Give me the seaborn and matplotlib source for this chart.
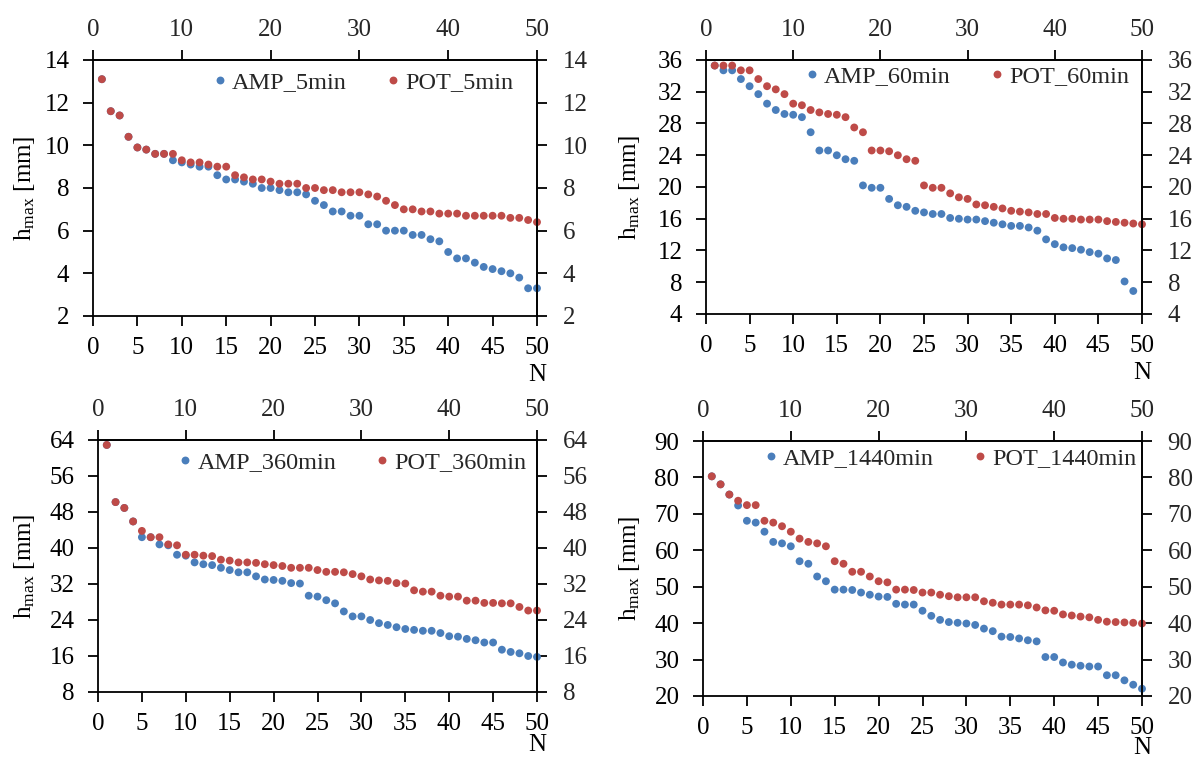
import numpy as np
import pandas as pd
import matplotlib
matplotlib.use("Agg")
import matplotlib.pyplot as plt
from matplotlib import font_manager
from matplotlib.lines import Line2D
import seaborn as sns

# ---- data: ranked maximum rainfall depths (mm), rank N = 1..50 ----
n_rank = list(range(1, 51))

amp_5min = [13.1, 11.6, 11.4, 10.4, 9.9, 9.8, 9.6, 9.6, 9.3, 9.2,
            9.1, 9.0, 9.0, 8.6, 8.4, 8.4, 8.3, 8.2, 8.0, 8.0,
            7.9, 7.8, 7.8, 7.7, 7.4, 7.2, 6.9, 6.9, 6.7, 6.7,
            6.3, 6.3, 6.0, 6.0, 6.0, 5.8, 5.8, 5.6, 5.5, 5.0,
            4.7, 4.7, 4.5, 4.3, 4.2, 4.1, 4.0, 3.8, 3.3, 3.3]
pot_5min = [13.1, 11.6, 11.4, 10.4, 9.9, 9.8, 9.6, 9.6, 9.6, 9.3,
            9.2, 9.2, 9.1, 9.0, 9.0, 8.6, 8.5, 8.4, 8.4, 8.3,
            8.2, 8.2, 8.2, 8.0, 8.0, 7.9, 7.9, 7.8, 7.8, 7.8,
            7.7, 7.6, 7.4, 7.2, 7.0, 7.0, 6.9, 6.9, 6.8, 6.8,
            6.8, 6.7, 6.7, 6.7, 6.7, 6.7, 6.6, 6.6, 6.5, 6.4]

amp_60min = [35.3, 34.7, 34.7, 33.6, 32.7, 31.7, 30.5, 29.7, 29.2, 29.1,
             28.8, 26.9, 24.6, 24.6, 24.0, 23.5, 23.3, 20.2, 19.9, 19.9,
             18.5, 17.7, 17.5, 17.0, 16.8, 16.6, 16.6, 16.1, 16.0, 15.9,
             15.9, 15.7, 15.5, 15.3, 15.1, 15.1, 14.9, 14.5, 13.4, 12.8,
             12.4, 12.3, 12.1, 11.8, 11.6, 11.0, 10.8, 8.1, 6.9, np.nan]
pot_60min = [35.3, 35.3, 35.3, 34.7, 34.7, 33.6, 32.7, 32.3, 31.7, 30.5,
             30.3, 29.7, 29.4, 29.2, 29.1, 28.8, 27.5, 26.9, 24.6, 24.6,
             24.5, 24.0, 23.5, 23.3, 20.2, 19.9, 19.9, 19.2, 18.7, 18.5,
             17.8, 17.7, 17.5, 17.3, 17.0, 16.9, 16.8, 16.6, 16.6, 16.1,
             16.0, 16.0, 15.9, 15.9, 15.9, 15.7, 15.6, 15.5, 15.4, 15.3]

amp_360min = [62.9, 50.2, 48.9, 45.9, 42.4, 42.4, 40.8, 40.6, 38.5, 38.3,
              36.8, 36.4, 36.2, 35.6, 35.1, 34.6, 34.6, 33.7, 33.0, 32.9,
              32.7, 32.2, 32.1, 29.4, 29.2, 28.4, 27.7, 25.9, 24.8, 24.8,
              24.0, 23.3, 22.9, 22.4, 22.0, 21.8, 21.6, 21.6, 21.1, 20.4,
              20.3, 19.8, 19.5, 19.0, 19.0, 17.4, 16.9, 16.6, 16.0, 15.8]
pot_360min = [62.9, 50.2, 48.9, 45.9, 43.8, 42.4, 42.4, 40.8, 40.6, 38.5,
              38.5, 38.3, 38.2, 37.4, 37.2, 36.8, 36.8, 36.7, 36.4, 36.2,
              36.0, 35.6, 35.6, 35.6, 35.1, 34.7, 34.7, 34.6, 34.2, 33.7,
              33.0, 32.8, 32.7, 32.2, 32.1, 30.6, 30.3, 30.3, 29.4, 29.2,
              29.2, 28.3, 28.3, 27.8, 27.8, 27.7, 27.7, 26.9, 26.1, 26.1]

amp_1440min = [80.3, 78.1, 75.3, 72.3, 68.1, 67.6, 65.1, 62.3, 61.9, 61.1,
               57.0, 56.3, 52.8, 51.5, 49.2, 49.2, 49.1, 48.4, 47.8, 47.3,
               47.2, 45.3, 45.1, 45.1, 43.4, 42.0, 40.9, 40.3, 40.1, 39.9,
               39.5, 38.5, 37.8, 36.3, 36.2, 35.8, 35.3, 35.0, 30.7, 30.7,
               29.2, 28.6, 28.3, 28.1, 28.1, 25.7, 25.7, 24.3, 23.1, 22.0]
pot_1440min = [80.3, 78.1, 75.3, 73.6, 72.4, 72.4, 68.1, 67.6, 66.6, 65.1,
               63.2, 62.3, 61.9, 61.1, 57.0, 56.3, 54.1, 54.1, 52.8, 51.5,
               51.2, 49.2, 49.2, 49.1, 48.4, 48.4, 47.8, 47.4, 47.1, 47.1,
               47.1, 46.0, 45.6, 45.1, 45.1, 45.1, 44.9, 44.3, 43.5, 43.4,
               42.4, 42.1, 41.8, 41.6, 40.9, 40.4, 40.3, 40.2, 40.1, 39.9]

durations = ["5min", "60min", "360min", "1440min"]
y_ticks = [list(range(2, 15, 2)), list(range(4, 37, 4)),
           list(range(8, 65, 8)), list(range(20, 91, 10))]
x_ticks_bottom = list(range(0, 51, 5))
x_ticks_top = list(range(0, 51, 10))

# ---- style ----
sns.set_theme(style="ticks")

# register the Times-metric serif face explicitly
serif_name = "Liberation Serif"
for path in font_manager.findSystemFonts():
    fname = path.rsplit("/", 1)[-1]
    if fname.startswith("LiberationSerif"):
        font_manager.fontManager.addfont(path)
        if fname == "LiberationSerif-Regular.ttf":
            serif_name = font_manager.FontProperties(fname=path).get_name()

plt.rcParams["font.family"] = [serif_name, "DejaVu Serif"]
plt.rcParams["mathtext.fontset"] = "custom"
plt.rcParams["mathtext.rm"] = serif_name
plt.rcParams["mathtext.it"] = serif_name + ":italic"

BLUE = "#4a7ebb"
RED = "#be4b48"
FS = 18
FS_LEG = 17.5
MS = 32
LW = 1.3

fig = plt.figure(figsize=(11.94, 7.63), dpi=100)
W, H = 1194, 763

# axes boxes in pixels: left, right, top, bottom
boxes = [(93, 537, 60, 316), (706, 1142, 60, 314),
         (98, 537, 440, 692), (703, 1142, 441, 696)]
legend_anchor = [(0.946, 0.914), (0.970, 0.937), (0.9765, 0.912), (0.988, 0.933)]
ylabel_off = [56, 64, 61, 61]
xlabel_off = [59, 59, 53, 52]

series = [(amp_5min, pot_5min), (amp_60min, pot_60min),
          (amp_360min, pot_360min), (amp_1440min, pot_1440min)]

for i, (dur, (amp, pot)) in enumerate(zip(durations, series)):
    l, r, t, b = boxes[i]
    ax = fig.add_axes([l / W, 1 - b / H, (r - l) / W, (b - t) / H])
    df = pd.DataFrame({
        "N": n_rank + n_rank,
        "h": amp + pot,
        "series": [f"AMP_{dur}"] * 50 + [f"POT_{dur}"] * 50,
    })
    sns.scatterplot(data=df, x="N", y="h", hue="series",
                    palette=[BLUE, RED], s=MS, linewidth=0,
                    legend=False, ax=ax, clip_on=False)

    yt = y_ticks[i]
    ax.set_xlim(0, 50)
    ax.set_ylim(yt[0], yt[-1])
    ax.set_xticks(x_ticks_bottom)
    ax.set_yticks(yt)
    ax.tick_params(axis="both", which="both", direction="out", length=7,
                   width=LW, color="black", labelsize=FS, labelcolor="black")
    ax.tick_params(axis="x", pad=8)
    ax.tick_params(axis="y", pad=10)
    for sp in ax.spines.values():
        sp.set_visible(True)
        sp.set_color("black")
        sp.set_linewidth(LW)

    top = ax.secondary_xaxis("top")
    top.set_xticks(x_ticks_top)
    top.tick_params(direction="out", length=7, width=LW, color="black",
                    labelsize=FS, pad=6.5)
    top.spines["top"].set_linewidth(LW)

    right = ax.secondary_yaxis("right")
    right.set_yticks(yt)
    right.tick_params(direction="out", length=7, width=LW, color="black",
                      labelsize=FS, pad=11.5)
    right.spines["right"].set_linewidth(LW)

    ax.set_ylabel(r"h$_{\mathrm{max}}$ [mm]", fontsize=FS, color="black")
    ax.yaxis.set_label_coords(-ylabel_off[i] / (r - l), 0.5)
    ax.set_xlabel("N", fontsize=FS, color="black", va="center")
    ax.xaxis.set_label_coords(1.0, -xlabel_off[i] / (b - t))

    handles = [Line2D([], [], ls="none", marker="o", markersize=np.sqrt(MS),
                      markerfacecolor=c, markeredgewidth=0)
               for c in (BLUE, RED)]
    ax.legend(handles, [f"AMP_{dur}", f"POT_{dur}"], ncol=2, frameon=False,
              loc="center right", bbox_to_anchor=legend_anchor[i],
              fontsize=FS_LEG, handlelength=0.5, handletextpad=0.25,
              columnspacing=1.65, borderpad=0, borderaxespad=0)

fig.savefig("out.png", dpi=100)
